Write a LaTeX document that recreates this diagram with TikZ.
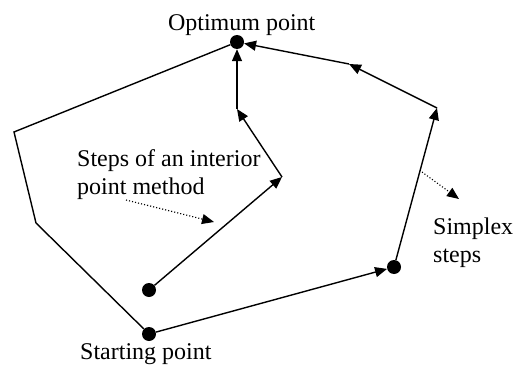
\documentclass[tikz,border=0pt]{standalone}
\usepackage{fontspec}
\setmainfont{Liberation Serif}
\usetikzlibrary{arrows.meta}
\begin{document}
\begin{tikzpicture}[x=1pt,y=-1pt,
  edge/.style={line width=1.4pt},
  stepedge/.style={line width=1.4pt,-{Triangle[length=12pt,width=10pt]}},
  hint/.style={line width=1.1pt,dotted,-{Triangle[length=12pt,width=10pt]}},
  dot/.style={circle,fill=black,inner sep=0pt,minimum size=14pt},
  lbl/.style={font=\fontsize{24}{28}\selectfont,inner sep=0pt,align=left}]
\useasboundingbox (0,0) rectangle (530,369);
% points
\node[dot] (opt) at (237,42) {};
\node[dot] (start) at (149,334) {};
\node[dot] (right) at (394,267) {};
\node[dot] (inner) at (149,290) {};
\coordinate (l1) at (14,132);
\coordinate (l2) at (36,223);
\coordinate (r1) at (437,108);
\coordinate (r2) at (349,64);
\coordinate (i1) at (282,177);
\coordinate (i2) at (237,109);
% polygon left side
\draw[edge,line join=miter] (opt) -- (l1) -- (l2) -- (start);
% simplex path
\draw[stepedge] (start) -- (right);
\draw[stepedge] (right) -- (r1);
\draw[stepedge] (r1) -- (r2);
\draw[stepedge] (r2) -- (opt);
% interior path
\draw[stepedge] (inner) -- (i1);
\draw[stepedge] (i1) -- (i2);
\draw[stepedge] (i2) -- (opt);
% labels
\node[lbl,anchor=base] (toptext) at (241.7,30.5) {Optimum point};
\node[lbl,anchor=base west] (starttext) at (80,359) {Starting point};
\node[lbl,anchor=base west] (ipm) at (77,194) {Steps of an interior\\point method};
\node[lbl,anchor=base west] (spx) at (433,262) {Simplex\\steps};
% hints
\coordinate (ha) at (126,200);
\coordinate (hb) at (214,222);
\coordinate (hc) at (422,172);
\coordinate (hd) at (459,199);
\draw[hint] (ha) -- (hb);
\draw[hint] (hc) -- (hd);
\end{tikzpicture}
\end{document}
